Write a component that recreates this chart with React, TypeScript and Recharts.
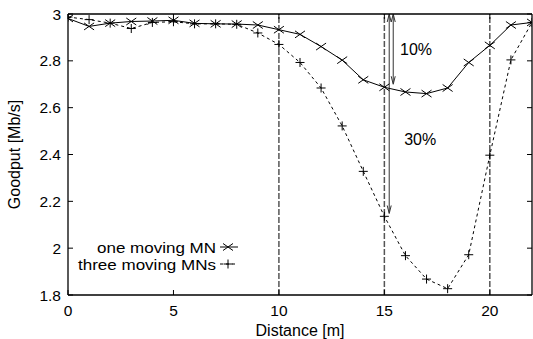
import React from 'react';
import { ComposedChart, Line, XAxis, YAxis, ReferenceLine, ReferenceDot, Legend } from 'recharts';

const distances = [0, 1, 2, 3, 4, 5, 6, 7, 8, 9, 10, 11, 12, 13, 14, 15, 16, 17, 18, 19, 20, 21, 22];
const oneMovingMN = [2.981, 2.947, 2.961, 2.968, 2.97, 2.973, 2.96, 2.958, 2.957, 2.953, 2.933, 2.913, 2.861, 2.803, 2.719, 2.687, 2.667, 2.66, 2.684, 2.793, 2.866, 2.953, 2.964];
const threeMovingMNs = [2.987, 2.976, 2.961, 2.938, 2.964, 2.967, 2.958, 2.958, 2.956, 2.919, 2.87, 2.793, 2.684, 2.522, 2.328, 2.136, 1.968, 1.868, 1.827, 1.972, 2.397, 2.804, 2.964];
const xTicks = [0, 5, 10, 15, 20];
const yTicks = [1.8, 2, 2.2, 2.4, 2.6, 2.8, 3];
const boundaries = [10, 15, 20];
const seriesNames = ['one moving MN', 'three moving MNs'];

const data = distances.map((d, i) => ({ d, one: oneMovingMN[i], three: threeMovingMNs[i] }));

const FONT = 'Liberation Sans, Arial, sans-serif';
const FS = 15.5;
const LFS = 16;
const TL = 5;

const LeftTick = (p: any) => {
  const m = 7;
  return (
    <g>
      <line x1={p.x + m} x2={p.x + m + TL} y1={p.y} y2={p.y} stroke="#000" />
      <text x={p.x} y={p.y} textAnchor="end" dominantBaseline="central" fontSize={FS} fontFamily={FONT} fill="#000">
        {String(p.payload.value)}
      </text>
    </g>
  );
};
const RightTick = (p: any) => (
  <line x1={p.x} x2={p.x - TL} y1={p.y} y2={p.y} stroke="#000" />
);
const BottomTick = (p: any) => {
  const m = 10;
  return (
    <g>
      <line x1={p.x} x2={p.x} y1={p.y - m} y2={p.y - m - TL} stroke="#000" />
      <text x={p.x} y={p.y} dy="0.71em" textAnchor="middle" fontSize={FS} fontFamily={FONT} fill="#000">
        {String(p.payload.value)}
      </text>
    </g>
  );
};
const TopTick = (p: any) => (
  <line x1={p.x} x2={p.x} y1={p.y} y2={p.y + TL} stroke="#000" />
);

const CrossDot = (p: any) => {
  const { cx, cy } = p;
  if (cx == null || cy == null) return <g key={p.index} />;
  return (
    <g key={p.index}>
      <line x1={cx - 5} y1={cy - 3.5} x2={cx + 5} y2={cy + 3.5} stroke="#000" strokeWidth={1} />
      <line x1={cx - 5} y1={cy + 3.5} x2={cx + 5} y2={cy - 3.5} stroke="#000" strokeWidth={1} />
    </g>
  );
};
const PlusDot = (p: any) => {
  const { cx, cy } = p;
  if (cx == null || cy == null) return <g key={p.index} />;
  return (
    <g key={p.index}>
      <line x1={cx - 4.5} y1={cy} x2={cx + 4.5} y2={cy} stroke="#000" strokeWidth={1} />
      <line x1={cx} y1={cy - 4.5} x2={cx} y2={cy + 4.5} stroke="#000" strokeWidth={1} />
    </g>
  );
};

const DoubleArrow = (p: any) => {
  const { x1, y1, x2, y2 } = p;
  const x = x1;
  const top = Math.min(y1, y2);
  const bot = Math.max(y1, y2);
  const c = '#333';
  return (
    <g>
      <line x1={x} x2={x} y1={top + 1} y2={bot - 1} stroke={c} strokeWidth={1} />
      <path d={`M${x - 2},${top + 8} L${x},${top} L${x + 2},${top + 8}`} fill="none" stroke={c} strokeWidth={1} />
      <path d={`M${x - 2},${bot - 8} L${x},${bot} L${x + 2},${bot - 8}`} fill="none" stroke={c} strokeWidth={1} />
    </g>
  );
};

const labelShape = (txt: string) => (p: any) => (
  <text x={p.cx} y={p.cy} textAnchor="middle" dominantBaseline="central" fontSize={16} fontFamily={FONT} fill="#000">
    {txt}
  </text>
);

const LegendContent = () => (
  <svg width={533} height={339} style={{ position: 'absolute', left: 0, top: 0, pointerEvents: 'none' }}>
    <text x={216} y={247} textAnchor="end" dominantBaseline="central" fontSize={FS} fontFamily={FONT} fill="#000" textLength={119} lengthAdjust="spacingAndGlyphs">
      {seriesNames[0]}
    </text>
    <line x1={220} x2={238} y1={247} y2={247} stroke="#000" />
    <line x1={223} y1={243.5} x2={233} y2={250.5} stroke="#000" />
    <line x1={223} y1={250.5} x2={233} y2={243.5} stroke="#000" />
    <text x={216} y={264} textAnchor="end" dominantBaseline="central" fontSize={FS} fontFamily={FONT} fill="#000" textLength={138} lengthAdjust="spacingAndGlyphs">
      {seriesNames[1]}
    </text>
    <line x1={220} x2={238} y1={264} y2={264} stroke="#000" strokeDasharray="3 3" />
    <line x1={223.5} x2={232.5} y1={264} y2={264} stroke="#000" />
    <line x1={228} x2={228} y1={259.5} y2={268.5} stroke="#000" />
  </svg>
);

export default function App() {
  return (
    <div style={{ position: 'absolute', left: 0, top: 0, background: '#fff' }}>
      <ComposedChart width={533} height={339} data={data} margin={{ top: 13, right: 0, bottom: 0, left: 0 }}>
        <XAxis
          xAxisId="b"
          dataKey="d"
          type="number"
          domain={[0, 22]}
          ticks={xTicks}
          allowDataOverflow
          height={44}
          tickSize={0}
          tickMargin={10}
          tick={<BottomTick />}
          axisLine={{ stroke: '#000', strokeWidth: 1.3 }}
          label={{ value: 'Distance [m]', position: 'insideBottom', offset: 3, fontSize: LFS, fontFamily: FONT, fill: '#000' }}
        />
        <XAxis
          xAxisId="t"
          orientation="top"
          type="number"
          domain={[0, 22]}
          ticks={xTicks}
          allowDataOverflow
          height={1}
          tickSize={0}
          tickMargin={0}
          tick={<TopTick />}
          axisLine={{ stroke: '#000', strokeWidth: 1.3 }}
        />
        <YAxis
          yAxisId="l"
          type="number"
          domain={[1.8, 3]}
          ticks={yTicks}
          allowDataOverflow
          width={68}
          tickSize={0}
          tickMargin={7}
          tick={<LeftTick />}
          axisLine={{ stroke: '#000', strokeWidth: 1.3 }}
          label={{ value: 'Goodput [Mb/s]', angle: -90, position: 'insideLeft', offset: 14, fontSize: LFS, fontFamily: FONT, fill: '#000', style: { textAnchor: 'middle' } }}
        />
        <YAxis
          yAxisId="r"
          orientation="right"
          type="number"
          domain={[1.8, 3]}
          ticks={yTicks}
          allowDataOverflow
          width={1}
          tickSize={0}
          tickMargin={0}
          tick={<RightTick />}
          axisLine={{ stroke: '#000', strokeWidth: 1.3 }}
        />
        {boundaries.map((b) => (
          <ReferenceLine key={b} xAxisId="b" yAxisId="l" x={b} stroke="#555" strokeWidth={1.5} strokeDasharray="6 2" />
        ))}
        <ReferenceLine
          xAxisId="b"
          yAxisId="l"
          segment={[{ x: 15.23, y: 3 }, { x: 15.23, y: 2.148 }]}
          shape={DoubleArrow}
          ifOverflow="visible"
        />
        <ReferenceLine
          xAxisId="b"
          yAxisId="l"
          segment={[{ x: 15.42, y: 3 }, { x: 15.42, y: 2.7 }]}
          shape={DoubleArrow}
          ifOverflow="visible"
        />
        <ReferenceDot xAxisId="b" yAxisId="l" x={16.5} y={2.847} r={0} shape={labelShape('10%')} ifOverflow="visible" />
        <ReferenceDot xAxisId="b" yAxisId="l" x={16.7} y={2.462} r={0} shape={labelShape('30%')} ifOverflow="visible" />
        <Line
          xAxisId="b"
          yAxisId="l"
          dataKey="one"
          name={seriesNames[0]}
          stroke="#000"
          strokeWidth={1}
          type="linear"
          dot={CrossDot}
          isAnimationActive={false}
        />
        <Line
          xAxisId="b"
          yAxisId="l"
          dataKey="three"
          name={seriesNames[1]}
          stroke="#000"
          strokeWidth={1}
          strokeDasharray="3 3"
          type="linear"
          dot={PlusDot}
          isAnimationActive={false}
        />
        <Legend
          layout="horizontal"
          verticalAlign="middle"
          align="center"
          wrapperStyle={{ position: 'absolute', left: 0, top: 0, width: 533, height: 339, pointerEvents: 'none' }}
          content={LegendContent}
        />
      </ComposedChart>
    </div>
  );
}
